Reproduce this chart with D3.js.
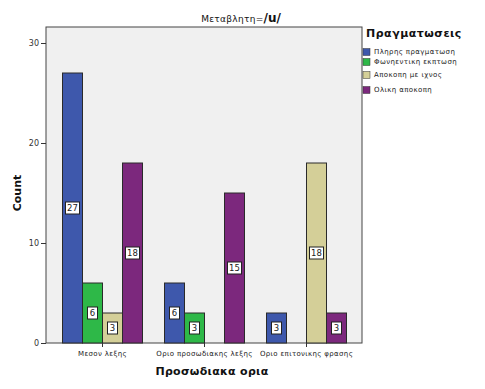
<html>
  <head>
    <meta charset="utf-8" />
    <script src="https://cdnjs.cloudflare.com/ajax/libs/d3/7.8.5/d3.min.js"></script>
    <style>
      body { margin: 0; background: #fff; }
      svg { font-family: "DejaVu Sans", Verdana, sans-serif; }
    </style>
  </head>
  <body>
    <svg width="485" height="389"></svg>
  </body>
  <script>
    const categories = ["Μεσον λεξης", "Οριο προσωδιακης λεξης", "Οριο επιτονικης φρασης"];
    const seriesNames = ["Πληρης πραγματωση", "Φωνηεντικη εκπτωση", "Αποκοπη με ιχνος", "Ολικη αποκοπη"];
    const full = [27, 6, 3];
    const vowelReduction = [6, 3, 0];
    const apocopeTrace = [3, 0, 18];
    const totalApocope = [18, 15, 3];
    const yTicks = [0, 10, 20, 30];
    const colors = ["#3e58ac", "#2eb848", "#d4cf98", "#7c287d"];

    const seriesValues = [full, vowelReduction, apocopeTrace, totalApocope];

    const svg = d3.select("svg");
    const plot = { left: 46, right: 362, top: 27, bottom: 343 };

    const x = d3.scaleBand().domain(categories).range([51.5, 357.5]);
    const xInner = d3.scaleBand().domain(seriesNames).range([0, 80]);
    const y = d3.scaleLinear().domain([0, 31.6]).range([plot.bottom, plot.top]);

    // plot background
    svg.append("rect")
      .attr("x", plot.left).attr("y", plot.top)
      .attr("width", plot.right - plot.left).attr("height", plot.bottom - plot.top)
      .attr("fill", "#f0f0f0").attr("stroke", "#444").attr("stroke-width", 1);

    // bars
    const rows = [];
    categories.forEach((c, i) => {
      seriesNames.forEach((s, j) => {
        rows.push({ cat: c, series: s, value: seriesValues[j][i], color: colors[j] });
      });
    });

    const groupX = (d) => x(d.cat) + x.bandwidth() / 2 - 40 + xInner(d.series);

    svg.append("g").selectAll("rect")
      .data(rows.filter((d) => d.value > 0))
      .enter()
      .append("rect")
      .attr("x", groupX)
      .attr("y", (d) => y(d.value))
      .attr("width", xInner.bandwidth())
      .attr("height", (d) => y(0) - y(d.value))
      .attr("fill", (d) => d.color)
      .attr("stroke", "#2a2a2a")
      .attr("stroke-width", 1);

    // value labels
    const lab = svg.append("g").selectAll("g")
      .data(rows.filter((d) => d.value > 0))
      .enter()
      .append("g")
      .attr("transform", (d) => `translate(${groupX(d) + xInner.bandwidth() / 2},${y(d.value / 2)})`);
    lab.append("rect")
      .attr("x", (d) => (d.value >= 10 ? -7 : -5))
      .attr("y", -6)
      .attr("width", (d) => (d.value >= 10 ? 14 : 10))
      .attr("height", 12)
      .attr("fill", "#fff")
      .attr("stroke", "#222")
      .attr("stroke-width", 1);
    lab.append("text")
      .attr("text-anchor", "middle")
      .attr("dy", "0.35em")
      .attr("font-size", 8.5)
      .attr("fill", "#222")
      .text((d) => d.value);

    // y axis
    const yAxis = svg.append("g")
      .attr("transform", `translate(${plot.left},0)`)
      .call(d3.axisLeft(y).tickValues(yTicks).tickSize(5).tickPadding(2));
    yAxis.select(".domain").remove();
    yAxis.selectAll("line").attr("stroke", "#333");
    yAxis.selectAll("text").attr("font-size", 8).attr("fill", "#333")
      .attr("font-family", "DejaVu Sans, sans-serif");

    // x axis
    const xAxis = svg.append("g")
      .attr("transform", `translate(0,${plot.bottom})`)
      .call(d3.axisBottom(x).tickSize(4).tickPadding(4));
    xAxis.select(".domain").remove();
    xAxis.selectAll("line").attr("stroke", "#333");
    xAxis.selectAll("text").attr("font-size", 7).attr("fill", "#222")
      .attr("letter-spacing", 0.35)
      .attr("font-family", "DejaVu Sans, sans-serif");

    // title
    const title = svg.append("text")
      .attr("x", 241).attr("y", 22)
      .attr("text-anchor", "middle")
      .attr("fill", "#111");
    title.append("tspan").attr("font-size", 9).attr("letter-spacing", 0.3).text("Μεταβλητη=");
    title.append("tspan").attr("font-size", 12).attr("font-weight", "bold").text("/u/");

    // axis titles
    svg.append("text")
      .attr("transform", "translate(21,193) rotate(-90)")
      .attr("text-anchor", "middle")
      .attr("font-size", 11)
      .attr("font-weight", "bold")
      .attr("fill", "#111")
      .text("Count");
    svg.append("text")
      .attr("x", 212).attr("y", 375)
      .attr("text-anchor", "middle")
      .attr("font-size", 11)
      .attr("font-weight", "bold")
      .attr("letter-spacing", 0.3)
      .attr("fill", "#111")
      .text("Προσωδιακα ορια");

    // legend
    svg.append("text")
      .attr("x", 366).attr("y", 37)
      .attr("font-size", 11)
      .attr("font-weight", "bold")
      .attr("letter-spacing", 0.5)
      .attr("fill", "#111")
      .text("Πραγματωσεις");
    const legendY = [52, 62, 75, 90];
    const leg = svg.append("g").selectAll("g")
      .data(seriesNames)
      .enter()
      .append("g")
      .attr("transform", (d, i) => `translate(363,${legendY[i]})`);
    leg.append("rect")
      .attr("x", 0).attr("y", -3.5)
      .attr("width", 7).attr("height", 7)
      .attr("fill", (d, i) => colors[i])
      .attr("stroke", "#333").attr("stroke-width", 0.5);
    leg.append("text")
      .attr("x", 11).attr("dy", "0.35em")
      .attr("font-size", 7)
      .attr("letter-spacing", 0.4)
      .attr("fill", "#222")
      .text((d) => d);
  </script>
</html>
